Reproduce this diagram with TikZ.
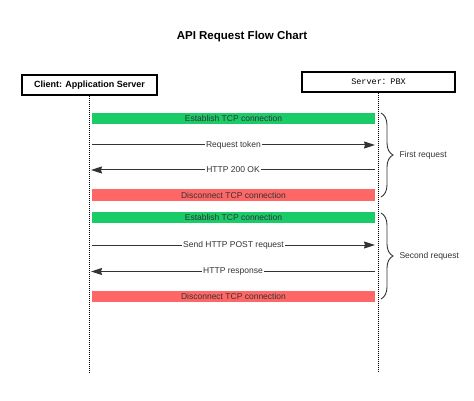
\documentclass[tikz,border=0pt]{standalone}
\usepackage{fontspec}
\setmainfont{Liberation Sans}
\newfontfamily\monofont{Liberation Mono}
\newfontfamily\cjk{Noto Sans CJK SC}
\usetikzlibrary{arrows.meta, positioning, calc, decorations.pathreplacing}
\definecolor{tcpgreen}{RGB}{26, 204, 104}
\definecolor{tcpred}{RGB}{255, 102, 102}
\definecolor{msggray}{RGB}{51, 51, 51}

\begin{document}
\begin{tikzpicture}[x=1pt, y=-1pt,
  actor/.style={draw, line width=1.1pt, minimum height=20pt, inner sep=0pt},
  lifeline/.style={draw, line width=0.9pt, dash pattern=on 1pt off 1pt},
  tcpbar/.style={minimum width=283pt, minimum height=11.5pt, inner sep=0pt, text=msggray, font=\fontsize{8.5}{10}\selectfont},
  msg/.style={draw=msggray, line width=1pt, -{Stealth[length=11pt, width=7pt, inset=1pt]}},
  msglabel/.style={midway, fill=white, inner sep=1pt, text=msggray, font=\fontsize{8.5}{10}\selectfont},
  grp/.style={draw=msggray, line width=0.9pt, decorate, decoration={brace, amplitude=12pt}},
  grplabel/.style={anchor=west, text=msggray, font=\fontsize{8.5}{10}\selectfont}]
  \useasboundingbox (0,0) rectangle (474,401);

  \node[font=\fontsize{11.5}{13}\selectfont\bfseries] (title) at (242, 37) {API Request Flow Chart};
  \node[actor, minimum width=135pt, font=\fontsize{9}{11}\selectfont\bfseries] (client) at (89.5, 85) {Client: Application Server};
  \node[actor, minimum width=153pt, font=\fontsize{8.5}{10}\selectfont] (server) at (378.5, 82) {\monofont Server\cjk ：\monofont PBX};

  \coordinate (clientend) at (89.5, 372);
  \coordinate (serverend) at (378.5, 372);
  \draw[lifeline] (client.south) -- (clientend);
  \draw[lifeline] (server.south) -- (serverend);

  % first request
  \node[tcpbar, fill=tcpgreen] (open1) at (233.5, 118.5) {Establish TCP connection};
  \coordinate (c1) at (92, 145);  \coordinate (s1) at (375, 145);
  \coordinate (c2) at (91, 170);  \coordinate (s2) at (375, 170);
  \draw[msg] (c1) -- (s1) node[msglabel] {Request token};
  \draw[msg] (s2) -- (c2) node[msglabel] {HTTP 200 OK};
  \node[tcpbar, fill=tcpred] (close1) at (233.5, 195) {Disconnect TCP connection};

  % second request
  \node[tcpbar, fill=tcpgreen] (open2) at (233.5, 217.5) {Establish TCP connection};
  \coordinate (c3) at (92, 245);  \coordinate (s3) at (375, 245);
  \coordinate (c4) at (91, 271.5);  \coordinate (s4) at (375, 271.5);
  \draw[msg] (c3) -- (s3) node[msglabel] {Send HTTP POST request};
  \draw[msg] (s4) -- (c4) node[msglabel] {HTTP response};
  \node[tcpbar, fill=tcpred] (close2) at (233.5, 296.5) {Disconnect TCP connection};

  % braces
  \coordinate (g1top) at (381, 113);  \coordinate (g1bot) at (381, 197);
  \coordinate (g2top) at (381, 213);  \coordinate (g2bot) at (381, 299);
  \draw[grp] (g1top) -- (g1bot);
  \draw[grp] (g2top) -- (g2bot);
  \node[grplabel] (req1) at (396, 155) {First request};
  \node[grplabel] (req2) at (396, 256) {Second request};
\end{tikzpicture}
\end{document}
